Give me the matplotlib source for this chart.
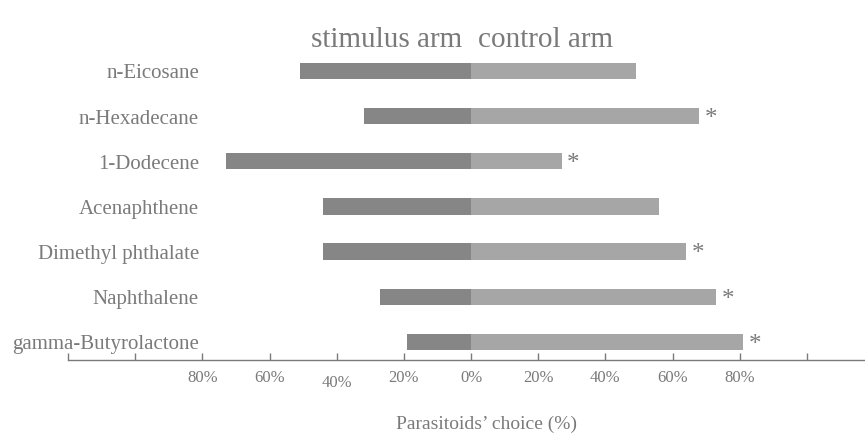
import matplotlib.pyplot as plt
from matplotlib import transforms

compounds = ["n-Eicosane", "n-Hexadecane", "1-Dodecene", "Acenaphthene",
             "Dimethyl phthalate", "Naphthalene", "gamma-Butyrolactone"]
stimulus = [51, 32, 73, 44, 44, 27, 19]
control = [49, 68, 27, 56, 64, 73, 81]
significant = [False, True, True, False, True, True, True]

tick_vals = [-120, -100, -80, -60, -40, -20, 0, 20, 40, 60, 80, 100]
tick_text = ["", "", "80%", "60%", "40%", "20%", "0%", "20%", "40%", "60%", "80%", ""]

grey = "#7a7a7a"
dark = "#868686"
light = "#a6a6a6"
serif = "Liberation Serif"

fig = plt.figure(figsize=(8.65, 4.44), dpi=100)
ax = fig.add_axes([68 / 865, 1 - 360 / 444, 1 - 68 / 865, 360 / 444])

n = len(compounds)
ypos = list(range(n - 1, -1, -1))  # first compound on top

ax.barh(ypos, [-s for s in stimulus], height=0.36, color=dark, linewidth=0)
ax.barh(ypos, control, height=0.36, color=light, linewidth=0)

down = transforms.ScaledTranslation(0, -3 / 100, fig.dpi_scale_trans)
for y, name, c, sig in zip(ypos, compounds, control, significant):
    ax.text(-81, y, name, ha="right", va="center", fontsize=15,
            family=serif, color=grey, transform=ax.transData + down)
    if sig:
        ax.annotate("*", (c, y), xytext=(4, -2), textcoords="offset points",
                    ha="left", va="center", fontsize=18, family=serif,
                    color=grey)

ax.set_xlim(-120, 117.3)
ax.set_ylim(-0.4, 7.57)

for side in ["top", "right", "left"]:
    ax.spines[side].set_visible(False)
ax.spines["bottom"].set_color(grey)
ax.spines["bottom"].set_linewidth(1.0)

ax.set_yticks([])
ax.set_xticks(tick_vals)
ax.set_xticklabels(tick_text, fontsize=12, family=serif, color=grey)
ax.tick_params(axis="x", direction="in", length=5, width=1.0,
               color=grey, pad=7)
# the left-hand "40%" sits a little lower in the original
lbl = ax.get_xticklabels()[4]
lbl.set_transform(lbl.get_transform() +
                  transforms.ScaledTranslation(0, -5 / 100, fig.dpi_scale_trans))

fig.text(462 / 865, 1 - 40 / 444, "stimulus arm", ha="right", va="center",
         fontsize=21, family=serif, color=grey)
fig.text(478 / 865, 1 - 40 / 444, "control arm", ha="left", va="center",
         fontsize=21, family=serif, color=grey)
fig.text(486 / 865, 1 - 424 / 444, "Parasitoids\u2019 choice (%)",
         ha="center", va="center", fontsize=14, family=serif, color=grey)

fig.savefig("out.png", dpi=100, facecolor="white")
